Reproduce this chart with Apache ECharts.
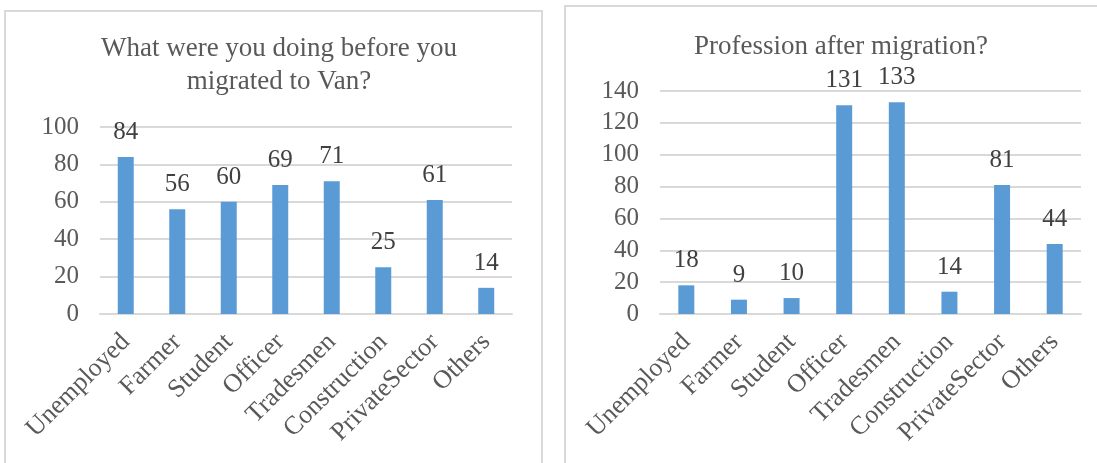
<!DOCTYPE html>
<html>
<head>
<meta charset="utf-8">
<script src="https://cdn.jsdelivr.net/npm/echarts@6/dist/echarts.min.js"></script>
<style>
html,body{margin:0;padding:0;background:#fff;}
#c{width:1097px;height:463px;}
</style>
</head>
<body>
<div id="c"></div>
<script>
var categories = ['Unemployed','Farmer','Student','Officer','Tradesmen','Construction','PrivateSector','Others'];
var beforeValues = [84,56,60,69,71,25,61,14];
var afterValues = [18,9,10,131,133,14,81,44];
var leftTitle = 'What were you doing before you\nmigrated to Van?';
var rightTitle = 'Profession after migration?';

var FONT = '"Liberation Serif","Times New Roman",serif';
var TXT = '#595959';
var GRID = '#d9d9d9';
var BAR = '#5b9bd5';

function xAxis(idx){
  return {
    type:'category', gridIndex:idx, data:categories,
    axisLine:{lineStyle:{color:GRID,width:2}},
    axisTick:{show:false},
    axisLabel:{rotate:45, interval:0, margin:24, color:TXT, fontFamily:FONT, fontSize:26}
  };
}
function yAxis(idx,max){
  return {
    type:'value', gridIndex:idx, min:0, max:max, interval:20,
    axisLine:{show:false}, axisTick:{show:false},
    splitLine:{lineStyle:{color:GRID,width:2}},
    axisLabel:{color:TXT, fontFamily:FONT, fontSize:25, margin:21}
  };
}
function series(idx,vals){
  return {
    type:'bar', xAxisIndex:idx, yAxisIndex:idx, data:vals, barWidth:16,
    itemStyle:{color:BAR},
    label:{show:true, position:'top', distance:12, color:'#404040', fontFamily:FONT, fontSize:25},
    animation:false
  };
}

var chart = echarts.init(document.getElementById('c'), null, {renderer:'canvas'});
chart.setOption({
  animation:false,
  graphic:[
    {type:'rect', shape:{x:5,y:11,width:537,height:470}, style:{fill:'none',stroke:'#d9d9d9',lineWidth:2}, silent:true},
    {type:'rect', shape:{x:565,y:6,width:560,height:480}, style:{fill:'none',stroke:'#d9d9d9',lineWidth:2}, silent:true}
  ],
  title:[
    {text:leftTitle, left:274, top:27, textAlign:'center',
     textStyle:{fontFamily:FONT, fontSize:27, fontWeight:'normal', color:TXT, lineHeight:33}},
    {text:rightTitle, left:836, top:28, textAlign:'center',
     textStyle:{fontFamily:FONT, fontSize:27, fontWeight:'normal', color:TXT}}
  ],
  grid:[
    {left:100, right:585, top:127, bottom:149},
    {left:660, right:16, top:91, bottom:149}
  ],
  xAxis:[xAxis(0), xAxis(1)],
  yAxis:[yAxis(0,100), yAxis(1,140)],
  series:[series(0,beforeValues), series(1,afterValues)]
});
</script>
</body>
</html>
